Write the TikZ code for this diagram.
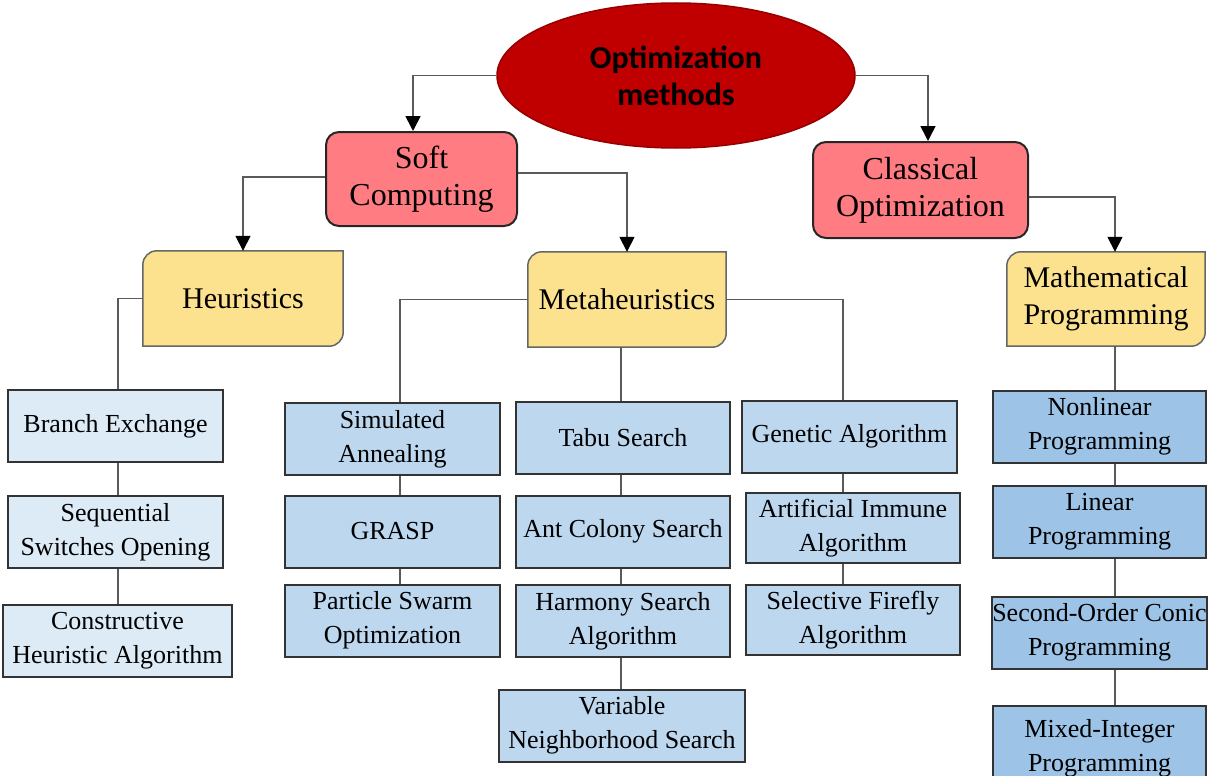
\documentclass[tikz,border=0pt]{standalone}
\usepackage{fontspec}
\setmainfont{Liberation Serif}
\newfontfamily\headfont{Carlito}
\usetikzlibrary{arrows.meta,shapes.geometric,calc,backgrounds}

\definecolor{rootred}{HTML}{C00000}
\definecolor{rootedge}{HTML}{960000}
\definecolor{catpink}{HTML}{FF7C82}
\definecolor{famyellow}{HTML}{FCE28F}
\definecolor{bluepale}{HTML}{DDEBF7}
\definecolor{bluemid}{HTML}{BDD7EE}
\definecolor{bluedeep}{HTML}{9DC3E6}
\definecolor{wire}{HTML}{5A5A5A}

% family box: rounded top-left and bottom-right corners only
\newcommand\famshape[1]{%
  \path[famfill] (#1.west) [rounded corners=14pt] -- (#1.north west) -- (#1.north)
    [sharp corners] -- (#1.north east) -- (#1.east)
    [rounded corners=14pt] -- (#1.south east) -- (#1.south)
    [sharp corners] -- (#1.south west) -- cycle;}

\tikzset{
  root/.style={ellipse, draw=rootedge, line width=1.5pt, fill=rootred,
    minimum width=358pt, minimum height=145pt, inner sep=0pt, align=center,
    font=\headfont\bfseries\fontsize{32}{37}\selectfont},
  cat/.style={rectangle, rounded corners=13pt, draw=black!85, line width=2pt,
    fill=catpink, align=center, inner sep=0pt,
    font=\fontsize{32}{37}\selectfont},
  fam/.style={rectangle, draw=none, align=center, inner sep=0pt,
    font=\fontsize{30}{37}\selectfont},
  famfill/.style={fill=famyellow, draw=black!60, line width=1.5pt},
  algo/.style={rectangle, draw=black!80, line width=2pt, align=center,
    inner sep=0pt, minimum height=72pt, font=\fontsize{26}{34}\selectfont},
  wireline/.style={draw=wire, line width=1.6pt},
  wirearrow/.style={wireline, -{Triangle[length=15pt,width=15pt,color=black]}},
}

\begin{document}
\begin{tikzpicture}[x=1pt,y=-1pt]
\useasboundingbox (0,0) rectangle (1208,776);
\clip (0,0) rectangle (1208,776);

% top level
\node[root] (root) at (676,75.5) {Optimization\\methods};

% categories
\node[cat, minimum width=191pt, minimum height=94pt] (soft) at (421.5,179) {Soft\\Computing};
\node[cat, minimum width=215pt, minimum height=96pt] (classic) at (920.5,190) {Classical\\Optimization};

% families
\node[fam, minimum width=200pt, minimum height=95pt] (heur) at (243,298.5) {Heuristics};
\node[fam, minimum width=198pt, minimum height=95pt] (meta) at (627,299.5) {Metaheuristics};
\node[fam, minimum width=198pt, minimum height=94pt] (mathprog) at (1106,299) {Mathematical\\Programming};
\begin{scope}[on background layer]
  \famshape{heur}
  \famshape{meta}
  \famshape{mathprog}
\end{scope}

% heuristics
\node[algo, fill=bluepale, minimum width=215pt] (be) at (115.5,426) {Branch Exchange};
\node[algo, fill=bluepale, minimum width=215pt] (ss) at (115.5,532) {Sequential\\Switches Opening};
\node[algo, fill=bluepale, minimum width=229pt] (ch) at (117.5,641) {Constructive\\Heuristic Algorithm};

% metaheuristics
\node[algo, fill=bluemid, minimum width=215pt] (sa) at (392.5,439) {Simulated\\Annealing};
\node[algo, fill=bluemid, minimum width=215pt] (gr) at (392.5,531.5) {GRASP};
\node[algo, fill=bluemid, minimum width=215pt] (ps) at (392.5,620.5) {Particle Swarm\\Optimization};

\node[algo, fill=bluemid, minimum width=214pt] (ts) at (623,437.5) {Tabu Search};
\node[algo, fill=bluemid, minimum width=214pt] (ac) at (623,531.5) {Ant Colony Search};
\node[algo, fill=bluemid, minimum width=214pt] (hs) at (623,621) {Harmony Search\\Algorithm};
\node[algo, fill=bluemid, minimum width=246pt] (vn) at (622,725.5) {Variable\\Neighborhood Search};

\node[algo, fill=bluemid, minimum width=215pt] (ga) at (849.5,436.5) {Genetic Algorithm};
\node[algo, fill=bluemid, minimum width=214pt, minimum height=70pt] (ai) at (853,528) {Artificial Immune\\Algorithm};
\node[algo, fill=bluemid, minimum width=214pt, minimum height=70pt] (sf) at (853,620) {Selective Firefly\\Algorithm};

% mathematical programming
\node[algo, fill=bluedeep, minimum width=213pt] (nl) at (1099.5,426.5) {Nonlinear\\Programming};
\node[algo, fill=bluedeep, minimum width=213pt] (lp) at (1099.5,521.5) {Linear\\Programming};
\node[algo, fill=bluedeep, minimum width=213pt] (so) at (1099.5,632.5) {Second-Order Conic\\Programming};
\node[algo, fill=bluedeep, minimum width=213pt, minimum height=84pt] (mi) at (1099.5,748) {Mixed-Integer\\Programming};

% vertical trunk positions
\coordinate (xsoft) at (413,0);
\coordinate (xcl) at (928,0);
\coordinate (xmp) at (1115,0);
\coordinate (xh) at (118,0);
\coordinate (xm1) at (400,0);
\coordinate (xm2) at (621,0);
\coordinate (xm3) at (843,0);

% arrows
\draw[wirearrow] (root.west) -| (soft.north -| xsoft);
\draw[wirearrow] (root.east) -| (classic.north -| xcl);
\draw[wirearrow] ($(soft.west)+(0,-2)$) -| (heur.north);
\draw[wirearrow] ($(soft.east)+(0,-6)$) -| (meta.north);
\draw[wirearrow] ($(classic.east)+(0,7)$) -| (mathprog.north -| xmp);

% tree lines
\draw[wireline] (heur.west) -| (be.north -| xh);
\draw[wireline] (be.south -| xh) -- (ss.north -| xh);
\draw[wireline] (ss.south -| xh) -- (ch.north -| xh);

\draw[wireline] (meta.west) -| (sa.north -| xm1);
\draw[wireline] (sa.south -| xm1) -- (gr.north -| xm1);
\draw[wireline] (gr.south -| xm1) -- (ps.north -| xm1);

\draw[wireline] (meta.south -| xm2) -- (ts.north -| xm2);
\draw[wireline] (ts.south -| xm2) -- (ac.north -| xm2);
\draw[wireline] (ac.south -| xm2) -- (hs.north -| xm2);
\draw[wireline] (hs.south -| xm2) -- (vn.north -| xm2);

\draw[wireline] (meta.east) -| (ga.north -| xm3);
\draw[wireline] (ga.south -| xm3) -- (ai.north -| xm3);
\draw[wireline] (ai.south -| xm3) -- (sf.north -| xm3);

\draw[wireline] (mathprog.south -| xmp) -- (nl.north -| xmp);
\draw[wireline] (nl.south -| xmp) -- (lp.north -| xmp);
\draw[wireline] (lp.south -| xmp) -- (so.north -| xmp);
\draw[wireline] (so.south -| xmp) -- (mi.north -| xmp);
\end{tikzpicture}
\end{document}
